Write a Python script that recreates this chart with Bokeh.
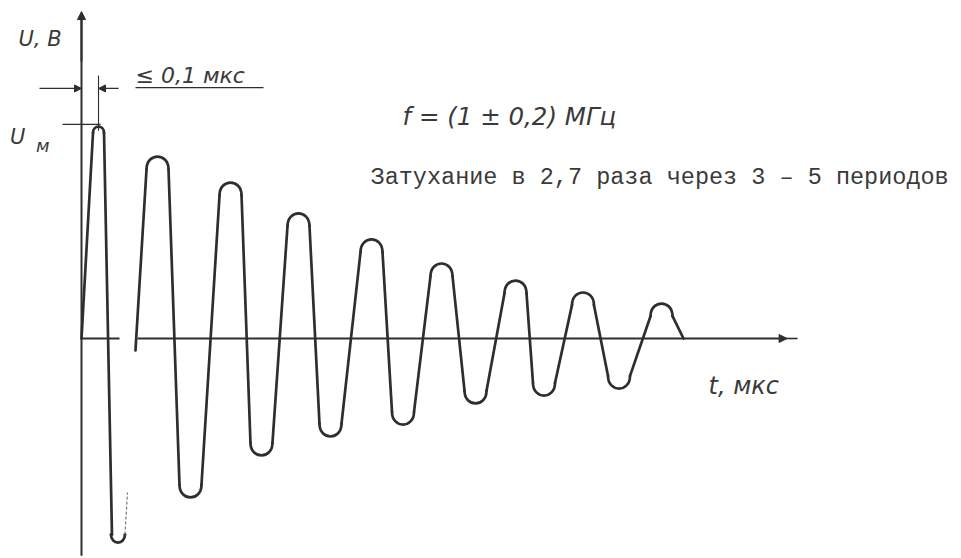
from bokeh.plotting import figure
from bokeh.models import Range1d, Arrow, NormalHead, Label
from bokeh.embed import file_html
from bokeh.resources import INLINE

# ---------------- data (t in µs, U relative to Um) ----------------
# first pulse (drawn separately, broken after the first trough)
t_part1 = [0.243, 0.521]
u_part1 = [0.995, -0.958]
part1_start = [0.0, 0.0]
part1_end = [0.657, -0.723]

# damped ringing that follows
t_part2 = [1.086, 1.557, 2.129, 2.571, 3.100, 3.557, 4.143, 4.593,
           5.143, 5.629, 6.200, 6.607, 7.164, 7.679, 8.286]
u_part2 = [0.854, -0.746, 0.732, -0.549, 0.587, -0.460, 0.465, -0.404,
           0.352, -0.305, 0.272, -0.268, 0.216, -0.235, 0.164]
part2_start = [0.771, -0.056]
part2_end = [8.6, 0.0]

# ---------------- page geometry ----------------
W, H = 960, 556
PX_T = 70.0    # px per µs
PX_U = 213.0   # px per Um
X0 = 81.0      # px of t=0 from the left
Y0 = 338.0     # px of U=0 from the top

INK = "#2e2e2e"
TXT = "#3a3a3a"

p = figure(width=W, height=H, output_backend="svg", toolbar_location=None,
           x_range=Range1d(-X0 / PX_T, (W - X0) / PX_T),
           y_range=Range1d(-(H - Y0) / PX_U, Y0 / PX_U),
           min_border=0)
p.axis.visible = False
p.grid.visible = False
p.outline_line_color = None
p.background_fill_color = "white"
p.border_fill_color = "white"


def draw_wave(ts, us, start, end, cap_px, lw):
    sx0, sy0, sx1, sy1 = [], [], [], []
    bx0, by0, bx1, by1, c0x, c0y, c1x, c1y = [], [], [], [], [], [], [], []
    prev = tuple(start)
    for t, u in zip(ts, us):
        s = 1 if u > 0 else -1
        h = cap_px / PX_T
        d = 1.15 * cap_px / PX_U
        base = u - s * d
        ctrl = u + s * d / 3.0
        sx0.append(prev[0]); sy0.append(prev[1]); sx1.append(t - h); sy1.append(base)
        bx0.append(t - h); by0.append(base); bx1.append(t + h); by1.append(base)
        c0x.append(t - h); c0y.append(ctrl); c1x.append(t + h); c1y.append(ctrl)
        prev = (t + h, base)
    sx0.append(prev[0]); sy0.append(prev[1]); sx1.append(end[0]); sy1.append(end[1])
    p.segment(x0=sx0, y0=sy0, x1=sx1, y1=sy1, line_color=INK, line_width=lw,
              line_cap="round")
    p.bezier(x0=bx0, y0=by0, x1=bx1, y1=by1, cx0=c0x, cy0=c0y, cx1=c1x, cy1=c1y,
             line_color=INK, line_width=lw, line_cap="round")
    return prev


# axes
AX_LW = 2.0
p.segment(x0=[0.0], y0=[-1.02], x1=[0.0], y1=[1.52], line_color=INK, line_width=AX_LW)
p.add_layout(Arrow(end=NormalHead(size=8, fill_color=INK, line_color=INK),
                   x_start=0.0, y_start=1.3, x_end=0.0, y_end=1.535,
                   line_color=INK, line_width=AX_LW))
p.segment(x0=[0.0], y0=[0.0], x1=[0.543], y1=[0.0], line_color=INK, line_width=AX_LW)
p.add_layout(Arrow(end=NormalHead(size=8, fill_color=INK, line_color=INK),
                   x_start=0.80, y_start=0.0, x_end=10.08, y_end=0.0,
                   line_color=INK, line_width=AX_LW))
p.segment(x0=[10.0], y0=[0.0], x1=[10.23], y1=[0.0], line_color=INK, line_width=1.6)

# waveform
mid1 = [t_part1[1] - 6 / PX_T, u_part1[1] + 8 / PX_U]
draw_wave(t_part1[:1], u_part1[:1], part1_start, mid1, 5.5, 2.7)
draw_wave(t_part1[1:], u_part1[1:], mid1, [t_part1[1] + 7 / PX_T, u_part1[1] + 8 / PX_U], 7.0, 2.7)
p.segment(x0=[t_part1[1] + 7 / PX_T], y0=[u_part1[1] + 8 / PX_U], x1=[part1_end[0]], y1=[part1_end[1]],
          line_color="#777777", line_width=1.2, line_dash="3 2")
draw_wave(t_part2, u_part2, part2_start, part2_end, 11.0, 2.7)

# dimension lines
DIM_U = 1.174
p.add_layout(Arrow(end=NormalHead(size=7, fill_color=INK, line_color=INK),
                   x_start=-0.60, y_start=DIM_U, x_end=0.0, y_end=DIM_U,
                   line_color=INK, line_width=1.3))
p.add_layout(Arrow(end=NormalHead(size=7, fill_color=INK, line_color=INK),
                   x_start=0.53, y_start=DIM_U, x_end=t_part1[0], y_end=DIM_U,
                   line_color=INK, line_width=1.3))
p.segment(x0=[t_part1[0]], y0=[1.235], x1=[t_part1[0]], y1=[0.975], line_color=INK, line_width=1.1)
p.segment(x0=[-0.271], y0=[u_part1[0] + 0.01], x1=[t_part1[0] + 0.03], y1=[u_part1[0] + 0.01],
          line_color=INK, line_width=1.2)
p.segment(x0=[0.771], y0=[1.178], x1=[2.6], y1=[1.178], line_color=INK, line_width=1.4)

# texts
HF = "DejaVu Sans"


def lab(x, y, text, size, font=HF, style="italic", color=TXT):
    p.add_layout(Label(x=x, y=y, text=text, text_font=font, text_font_size=size,
                       text_font_style=style, text_color=color,
                       text_baseline="alphabetic", text_align="left"))


lab(-0.90, 1.408, "U, В", "21px")
lab(-1.02, 0.944, "U", "21px")
lab(-0.65, 0.905, "м", "18px")
lab(0.771, 1.235, "≤ 0,1 мкс", "22px")
lab(4.586, 1.042, "f = (1 ± 0,2) МГц", "24.5px")
lab(4.129, 0.757, "Затухание в 2,7 раза через 3 – 5 периодов", "23.5px",
    font="Liberation Mono", style="normal")
lab(8.957, -0.221, "t, мкс", "24px")

open("out.html", "w").write(file_html(p, INLINE))
